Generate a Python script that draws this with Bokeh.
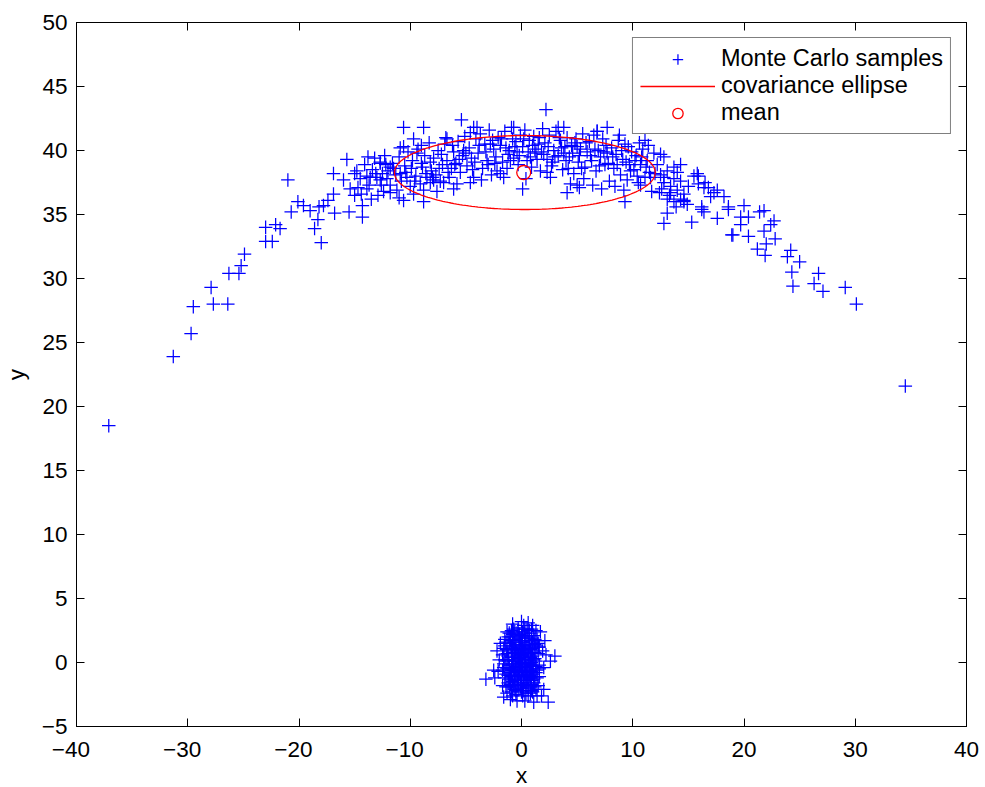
import numpy as np
from bokeh.plotting import figure
from bokeh.models import LinearAxis, FixedTicker, Legend, LegendItem, Range1d
from bokeh.embed import file_html
from bokeh.resources import INLINE

# ---- data ----
arc_pts = [
    # far-left sparse tail
    (-37.1,18.5),(-31.3,23.9),(-29.7,25.7),(-29.5,27.8),(-27.9,29.3),(-27.7,28.0),(-26.4,28.0),
    (-26.3,30.4),(-25.4,30.4),(-25.2,31.0),(-24.9,31.9),(-23.0,32.9),(-22.4,32.9),(-23.0,34.0),
    (-22.1,34.2),(-21.7,33.9),(-21.0,37.7),(-20.7,35.2),(-20.1,36.0),(-19.6,35.7),(-19.0,35.3),
    (-18.6,33.9),(-18.0,32.8),(-18.3,34.6),(-18.2,35.6),(-17.8,35.7),(-17.4,36.1),(-16.9,36.6),
    (-16.8,35.1),(-16.9,38.2),(-15.7,39.3),(-15.5,35.2),(-16.0,37.7),(-15.0,38.2),(-15.4,37.0),
    (-14.3,34.8),(-14.3,35.7),(-13.8,39.5),(-14.7,37.1),(-13.6,37.9),(-13.9,37.0),(-13.5,36.2),
    (-15.0,36.5),
    # upper-left of the ellipse
    (-5.4,42.4),(-4.3,41.8),(-8.8,41.8),(-10.6,41.8),(-10.9,40.2),(-9.7,40.9),(-9.0,40.4),
    (-6.7,40.9),(-12.3,39.6),(-12.7,39.1),(-11.8,38.7),(-12.1,37.8),(-12.7,37.7),(-11.8,36.7),
    (-10.6,36.1),(-11.0,36.3),(-8.8,36.0),(-7.9,37.7),(-6.1,37.0),(-8.2,37.5),
    # centre
    (2.2,43.2),(0.1,37.0),(-4.0,41.8),(-0.7,41.8),(3.3,41.8),(-4.6,37.5),(-1.9,38.2),(2.3,38.3),
    (4.2,38.6),(4.1,36.7),
    # right of centre
    (11.1,40.8),(9.3,36.0),(5.0,37.3),(5.2,37.1),(7.7,41.8),(6.8,41.5),(3.8,41.8),(12.8,34.3),
    (13.1,36.2),(12.5,39.7),(10.4,38.0),(10.7,37.3),
    # right sparse tail
    (34.5,21.6),(30.1,28.0),(29.1,29.3),(27.1,29.0),(26.7,30.4),(26.3,29.6),(24.4,29.4),(24.3,30.5),
    (25.0,31.3),(23.9,31.7),(24.2,32.2),(22.8,33.1),(21.9,31.8),(21.2,32.3),(22.0,32.7),(21.8,33.7),
    (22.4,34.2),(22.7,34.5),(20.4,33.3),(19.0,33.4),(19.7,34.2),(19.7,34.8),(20.4,34.8),(21.4,35.2),
    (21.8,35.3),(20.0,35.7),(18.6,35.6),(18.6,35.4),(17.6,34.7),(15.3,34.4),(16.4,35.2),(16.2,35.4),
    (13.1,35.1),(14.9,35.8),(17.6,36.9),(18.2,36.4),(17.0,36.4),(17.3,36.7),(15.8,38.2),(15.9,37.4),
    (16.4,37.1),(15.5,38.0),(14.3,38.9),(13.7,38.7),(14.0,38.3),(12.8,39.5),(12.8,37.9),(13.4,36.7),
    (14.3,36.2),(14.6,36.0),(13.7,36.0),(18.9,33.4),(16.2,35.6),(15.9,38.0),(16.5,37.5),(16.8,37.1),
    (14.6,36.1),
    # dense band
    (-14.8,38.4),(-14.5,37.8),(-14.1,38.9),(-13.7,37.3),(-13.4,38.5),(-13.0,37.9),(-12.7,39.0),
    (-12.4,36.8),(-13.2,39.4),(-12.9,36.5),(-12.5,38.2),(-14.4,36.6),
    (-12.0,38.4),(-11.6,39.0),(-11.3,38.1),(-11.0,39.5),(-10.8,37.6),(-10.5,38.8),(-10.2,39.9),
    (-10.0,37.2),(-11.8,37.3),(-10.6,40.3),(-11.2,36.9),(-10.4,38.3),
    (-9.8,39.2),(-9.5,38.0),(-9.3,40.1),(-9.1,37.4),(-8.9,38.7),(-8.7,39.6),(-8.5,37.9),(-8.3,40.6),
    (-8.1,38.4),(-9.7,36.6),(-8.8,36.9),(-9.4,39.8),(-8.2,39.1),
    (-7.9,39.4),(-7.7,38.1),(-7.5,40.0),(-7.3,37.6),(-7.1,38.9),(-6.9,40.5),(-6.7,39.2),(-6.5,37.9),
    (-6.3,38.6),(-6.1,39.9),(-7.6,36.8),(-6.8,41.0),(-7.2,39.7),(-6.2,40.4),
    (-5.9,39.0),(-5.7,40.7),(-5.5,38.3),(-5.3,39.6),(-5.1,41.1),(-4.9,38.8),(-4.7,40.2),(-4.5,39.4),
    (-4.3,37.9),(-4.1,40.9),(-5.8,37.4),(-4.6,41.4),(-5.2,40.0),(-4.4,38.5),
    (-3.9,39.8),(-3.7,41.3),(-3.5,38.6),(-3.3,40.5),(-3.1,39.2),(-2.9,41.6),(-2.7,38.1),(-2.5,40.1),
    (-2.3,39.5),(-2.1,41.0),(-3.6,37.7),(-2.6,40.8),(-3.0,38.9),(-2.2,38.4),
    (-1.9,40.4),(-1.7,39.1),(-1.5,41.5),(-1.3,38.6),(-1.1,40.0),(-0.9,41.8),(-0.7,39.4),(-0.5,40.7),
    (-0.3,38.9),(-0.1,41.2),(-1.6,37.9),(-0.8,40.9),(-1.2,39.7),(-0.4,39.9),
    (0.1,40.3),(0.3,41.6),(0.5,39.2),(0.7,40.8),(0.9,38.7),(1.1,41.1),(1.3,39.8),(1.5,40.5),
    (1.7,38.4),(1.9,41.7),(0.4,37.8),(1.2,40.1),(0.8,39.5),(1.8,39.9),
    (2.1,40.6),(2.3,39.3),(2.5,41.2),(2.7,38.8),(2.9,40.0),(3.1,41.5),(3.3,39.6),(3.5,40.8),
    (3.7,38.5),(3.9,40.3),(2.6,37.9),(3.4,41.0),(2.8,39.1),(3.8,39.8),
    (4.1,41.0),(4.3,39.5),(4.5,40.4),(4.7,38.2),(4.9,40.9),(5.1,39.1),(5.3,40.1),(5.5,41.3),
    (5.7,38.7),(5.9,39.9),(4.4,37.4),(5.6,37.8),(4.8,40.6),(5.2,39.6),
    (6.1,40.7),(6.3,39.2),(6.5,41.2),(6.7,38.4),(6.9,40.0),(7.1,39.5),(7.3,40.9),(7.5,38.9),
    (7.7,39.8),(7.9,37.6),(6.4,37.3),(7.2,37.0),(6.8,41.5),(7.6,40.4),
    (8.1,40.2),(8.3,38.6),(8.5,39.7),(8.7,40.8),(8.9,38.1),(9.1,39.3),(9.3,40.5),(9.5,37.7),
    (9.7,38.9),(9.9,39.9),(8.4,37.2),(9.2,36.9),(8.8,41.2),(9.6,40.3),
    (10.1,38.5),(10.3,39.6),(10.5,37.5),(10.7,38.9),(10.9,40.1),(11.1,37.9),(11.3,39.2),(11.5,38.3),
    (11.7,36.8),(11.9,39.8),(10.6,40.6),(11.4,40.4),
    (12.2,38.9),(12.5,38.1),(12.8,37.5),(13.1,38.4),(13.4,37.2),(13.7,37.8),(14.0,36.9),(14.3,37.6),
    (14.6,36.6),(12.4,36.7),(13.9,35.6),(15.0,37.2),
    (-11.5,38.6),(-10.9,38.2),(-10.3,37.9),(-9.9,38.6),(-9.6,37.6),(-9.0,39.0),(-8.6,38.2),
    (-8.0,37.9),(-7.4,38.6),(-7.0,37.5),(-6.6,38.3),(-6.0,38.9),(-5.6,39.3),(-5.0,39.8),
    (-4.2,39.1),(-3.8,40.4),(-3.2,39.9),(-2.8,40.5),(-2.4,39.0),(-1.8,40.9),(-1.4,40.2),
    (-1.0,39.2),(-0.6,40.3),(-0.2,39.6),(0.2,40.9),(0.6,39.9),(1.0,40.4),(1.4,39.3),(1.6,41.0),
    (2.0,39.7),(2.4,40.3),(3.0,39.5),(3.6,40.2),(4.0,39.2),(4.6,39.8),(5.0,40.3),(5.4,38.6),
    (5.8,40.6),(6.2,39.6),(6.6,40.1),(7.0,38.8),(7.4,39.9),(7.8,39.0),(8.2,39.5),(8.6,38.9),
    (9.0,40.0),(9.4,39.1),(9.8,38.4),(10.2,39.2),(10.8,39.5),(11.2,38.7),(11.6,37.9),(12.0,38.2),
    (12.6,37.0),(13.3,36.5),(-13.9,38.0),(-13.1,38.2),(-12.2,38.9),(-12.6,37.3),
]

cluster_pts = [
    (-1.2,0.5),(-1.0,-0.8),(-0.9,1.2),(-0.8,-1.5),(-0.7,0.1),(-0.6,1.8),(-0.5,-0.4),(-0.4,0.9),
    (-0.3,-1.2),(-0.2,0.3),(-0.1,-1.9),(0.0,1.4),(0.1,-0.6),(0.2,0.7),(0.3,-1.4),(0.4,2.0),
    (0.5,-0.2),(0.6,1.1),(0.7,-1.0),(0.8,0.4),(0.9,-1.7),(1.0,1.6),(1.1,-0.5),(1.2,0.8),
    (-1.1,-0.2),(-0.9,-1.1),(-0.8,0.8),(-0.6,-2.1),(-0.4,2.3),(-0.2,-0.9),(0.0,0.0),(0.2,-2.2),
    (0.3,1.7),(0.5,-1.6),(0.6,0.2),(0.8,-0.3),(0.9,1.9),(1.1,-1.3),(1.3,0.1),(-1.3,1.0),
    (-1.0,1.7),(-0.7,-0.6),(-0.5,1.4),(-0.3,-1.6),(-0.1,0.6),(0.1,2.4),(0.3,-0.3),(0.4,0.5),
    (0.6,-2.0),(0.7,1.3),(1.0,-0.9),(1.2,-1.9),(-1.4,-0.9),(-1.2,-1.6),(-0.8,2.2),(-0.6,0.4),
    (-0.4,-0.1),(-0.2,1.9),(0.0,-1.4),(0.2,1.1),(0.4,-1.0),(0.5,2.6),(0.7,-0.6),(0.9,0.0),
    (1.1,2.1),(1.4,-0.6),(-0.9,-2.3),(-0.5,-2.5),(0.1,-2.6),(0.6,-2.6),(1.0,-2.3),(-0.3,2.7),
    (0.2,2.9),(0.7,2.5),(-0.7,2.6),(1.5,1.2),(1.6,-1.1),(-1.5,0.2),(-1.6,-0.4),(-1.4,1.6),
    (1.4,1.7),(1.3,-2.1),(-1.1,2.3),(-0.1,-0.3),(0.3,0.2),(-0.3,0.6),(0.1,1.0),(-0.6,-1.3),
    (0.8,-1.2),(0.5,0.9),
    (-1.3,2.4),(-0.9,2.5),(-0.2,2.2),(0.3,2.6),(0.9,2.3),(1.3,2.5),
    (-1.5,1.8),(-1.2,2.0),(-0.7,1.6),(-0.1,1.7),(0.5,1.9),(1.2,1.8),(1.5,1.5),
    (-1.6,1.1),(-1.5,1.3),(-0.6,1.1),(0.3,1.3),(0.8,1.0),(1.3,1.3),(1.6,1.2),
    (-1.7,0.6),(-1.3,0.7),(-0.9,0.4),(-0.3,0.8),(0.6,0.6),(1.0,0.5),(1.5,0.7),
    (-1.6,-0.1),(-1.4,0.1),(-0.8,-0.2),(-0.2,0.1),(0.4,-0.1),(1.1,0.2),(1.6,-0.2),
    (-1.7,-0.6),(-1.3,-0.5),(-0.6,-0.8),(0.1,-0.4),(0.5,-0.7),(1.3,-0.8),(1.6,-0.5),
    (-1.5,-1.2),(-1.1,-1.3),(-0.4,-1.0),(0.2,-1.1),(0.9,-1.4),(1.4,-1.2),
    (-1.4,-1.9),(-1.0,-1.7),(-0.3,-2.0),(0.4,-1.8),(1.1,-1.6),(1.5,-1.8),
    (-1.3,-2.4),(-0.8,-2.6),(0.0,-2.3),(0.8,-2.4),(1.4,-2.6),
    (-1.1,1.5),(-0.8,1.3),(-0.5,1.0),(-0.2,1.2),(0.1,1.6),(0.4,1.2),(0.7,1.7),(1.0,1.1),(1.2,1.4),
    (-1.2,0.2),(-0.9,0.9),(-0.6,0.7),(-0.3,0.3),(0.0,0.5),(0.3,0.8),(0.6,0.4),(0.9,0.7),(1.2,0.3),
    (-1.1,-0.5),(-0.8,-0.1),(-0.5,0.2),(-0.2,-0.5),(0.1,-0.1),(0.4,-0.4),(0.7,-0.1),(1.0,-0.2),
    (1.3,-0.3),(-1.2,-1.0),(-0.9,-0.6),(-0.6,-1.0),(-0.3,-0.7),(0.0,-0.9),(0.3,-0.8),(0.6,-1.2),
    (0.9,-0.7),(1.2,-1.1),(-1.1,-1.9),(-0.7,-1.8),(-0.4,-1.4),(-0.1,-1.6),(0.2,-1.7),(0.5,-1.3),
    (0.8,-1.9),(1.1,-1.8),(-1.0,2.0),(-0.6,2.4),(-0.3,2.0),(0.0,2.1),(0.3,2.3),(0.6,2.1),(0.9,2.6),
    (-0.5,-2.2),(0.1,-2.0),(0.4,-2.4),(0.9,-2.2),
    (-3.2,-1.3),(-2.4,-1.2),(-2.1,-0.7),(-1.9,1.5),(-2.0,0.2),(2.2,0.6),(1.9,0.9),(2.0,-0.4),
    (2.4,-3.1),(1.1,-3.1),(-0.4,-3.0),(0.0,3.2),(0.6,3.1),(-1.0,-2.9),(1.8,-2.6),(-1.7,-1.8),
    (1.7,2.4),(3.0,0.5),(2.6,0.1),(-2.2,0.9),(2.1,1.7),(-2.5,-0.6),(-1.6,-2.7),(0.3,-3.0),
    (2.0,-2.1),(-0.8,3.0),(1.0,2.9),
]

sample_x = [p[0] for p in arc_pts + cluster_pts]
sample_y = [p[1] for p in arc_pts + cluster_pts]

mean_x = [0.2]
mean_y = [38.28]
ellipse_center = (0.3, 38.28)
ellipse_semi_axes = (11.72, 2.89)   # x, y semi-axes of the covariance ellipse

x_ticks = [-40, -30, -20, -10, 0, 10, 20, 30, 40]
y_ticks = [-5, 0, 5, 10, 15, 20, 25, 30, 35, 40, 45, 50]

# ---- ellipse outline from its parameters ----
t = np.linspace(0, 2 * np.pi, 241)
ell_x = ellipse_center[0] + ellipse_semi_axes[0] * np.cos(t)
ell_y = ellipse_center[1] + ellipse_semi_axes[1] * np.sin(t)

FONT = "Liberation Sans"
FS = "22.5px"
LFS = "23.5px"
MINUS = "\u2212"

def xlab(v):
    return (MINUS + str(abs(v)) + "\u2002") if v < 0 else str(v)

def ylab(v):
    return (MINUS + str(abs(v))) if v < 0 else str(v)

p = figure(width=981, height=784, output_backend="svg", toolbar_location=None,
           x_range=Range1d(-40, 40), y_range=Range1d(-5, 50),
           min_border_left=76, min_border_right=15, min_border_top=22, min_border_bottom=58)
p.frame_width = 890
p.frame_height = 704

p.xgrid.visible = False
p.ygrid.visible = False
p.outline_line_color = "black"
p.outline_line_width = 1
p.background_fill_color = "white"
p.border_fill_color = "white"

r_samples = p.scatter(sample_x, sample_y, marker="cross", size=13.5, line_color="#0000ff", line_width=1.25)
r_ell = p.line(ell_x, ell_y, line_color="#ff0000", line_width=1.3)
r_mean = p.scatter(mean_x, mean_y, marker="circle", size=14, line_color="#ff0000",
                   fill_color=None, line_width=1.3)

xa = p.xaxis[0]
ya = p.yaxis[0]
xa.ticker = FixedTicker(ticks=x_ticks)
ya.ticker = FixedTicker(ticks=y_ticks)
xa.major_label_overrides = {v: xlab(v) for v in x_ticks}
ya.major_label_overrides = {v: ylab(v) for v in y_ticks}
for ax in (xa, ya):
    ax.major_tick_in = 8
    ax.major_tick_out = 0
    ax.minor_tick_in = 0
    ax.minor_tick_out = 0
    ax.axis_line_color = "black"
    ax.major_tick_line_color = "black"
    ax.major_label_text_font = FONT
    ax.major_label_text_font_size = FS
    ax.major_label_text_color = "black"
    ax.axis_label_text_font = FONT
    ax.axis_label_text_font_size = FS
    ax.axis_label_text_font_style = "normal"
    ax.axis_label_text_color = "black"
xa.axis_label = "x"
ya.axis_label = "y"
xa.major_label_standoff = 10
ya.major_label_standoff = 9
xa.axis_label_standoff = -2
ya.axis_label_standoff = 10

top = LinearAxis(ticker=FixedTicker(ticks=x_ticks), major_label_text_font_size="0px",
                 major_tick_in=8, major_tick_out=0, minor_tick_in=0, minor_tick_out=0,
                 axis_line_color="black", major_tick_line_color="black", major_label_standoff=0)
right = LinearAxis(ticker=FixedTicker(ticks=y_ticks), major_label_text_font_size="0px",
                   major_tick_in=8, major_tick_out=0, minor_tick_in=0, minor_tick_out=0,
                   axis_line_color="black", major_tick_line_color="black", major_label_standoff=0)
p.add_layout(top, "above")
p.add_layout(right, "right")

legend = Legend(items=[
    LegendItem(label="Monte Carlo samples", renderers=[r_samples]),
    LegendItem(label="covariance ellipse", renderers=[r_ell]),
    LegendItem(label="mean", renderers=[r_mean]),
], location="top_right")
legend.margin = 15
legend.padding = 7
legend.spacing = 0
legend.glyph_width = 75
legend.glyph_height = 26
legend.label_height = 26
legend.label_standoff = 6
legend.label_text_font = FONT
legend.label_text_font_size = LFS
legend.label_text_color = "black"
legend.border_line_color = "black"
legend.border_line_width = 1.3
legend.background_fill_color = "white"
legend.background_fill_alpha = 1
p.add_layout(legend, "center")

open("out.html", "w").write(file_html(p, INLINE))
